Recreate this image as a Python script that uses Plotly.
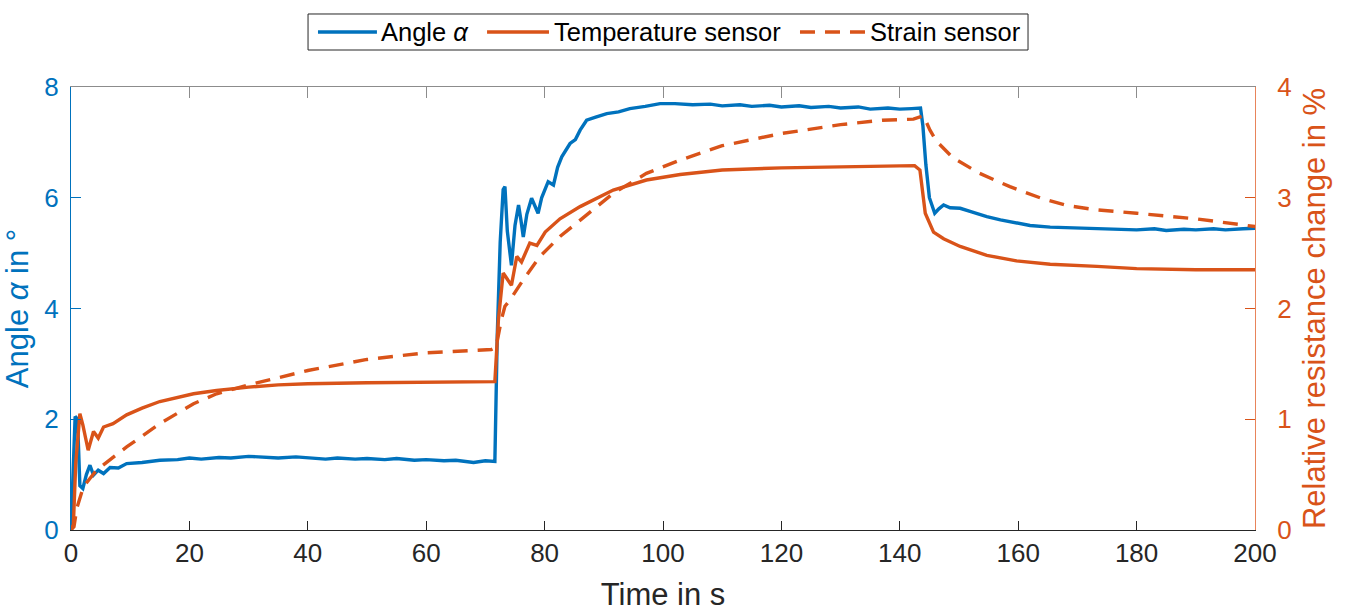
import plotly.graph_objects as go

t_angle = [0, 0.3, 0.7, 1.1, 1.5, 2.0, 2.6, 3.2, 3.8, 4.6, 5.5, 6.6, 8, 9.4, 12, 15, 18, 20, 22, 25, 27, 30, 33, 35, 38, 40, 43, 45, 48, 50,
           53, 55, 58, 60, 63, 65, 68, 70, 71.6,
           72.0, 72.5, 73.0, 73.3, 73.7, 74.4, 75.0, 75.6, 76.0, 76.4, 77.0, 77.8, 78.9, 79.5, 80.6, 81.5, 82.2, 82.9, 84.3, 85.2, 86,
           87.1, 88.5, 90.5, 92.5, 94.4, 97, 99.5, 102, 105, 108, 110, 113, 115, 118, 120, 123, 125, 128, 130, 133, 135, 138, 140, 142,
           143.5, 143.9, 144.4, 145.0, 145.9,
           146.6, 147.4, 148.5, 150.2, 152, 154.7, 157, 159.7, 162, 165.4, 170, 173.3, 176, 180, 183, 185, 188, 190, 193, 195, 198, 200]
angle = [0, 1.0, 2.05, 2.0, 0.8, 0.75, 1.0, 1.17, 0.99, 1.08, 1.02, 1.13, 1.12, 1.2, 1.22, 1.26, 1.27, 1.3, 1.28, 1.31, 1.3, 1.33, 1.31, 1.3, 1.32, 1.3, 1.28, 1.3, 1.28, 1.29,
         1.27, 1.29, 1.26, 1.27, 1.25, 1.26, 1.22, 1.25, 1.24,
         3.5, 5.2, 6.15, 6.2, 5.4, 4.78, 5.5, 5.87, 5.6, 5.29, 5.7, 5.99, 5.72, 6.0, 6.29, 6.23, 6.55, 6.74, 6.98, 7.05, 7.22,
         7.4, 7.45, 7.52, 7.55, 7.61, 7.65, 7.7, 7.7, 7.68, 7.69, 7.66, 7.68, 7.65, 7.67, 7.64, 7.66, 7.63, 7.65, 7.62, 7.64, 7.6, 7.62, 7.6, 7.61,
         7.62, 7.3, 6.6, 6.0, 5.72,
         5.8, 5.87, 5.82, 5.81, 5.75, 5.66, 5.6, 5.54, 5.5, 5.47, 5.45, 5.45, 5.43, 5.42, 5.44, 5.41, 5.43, 5.42, 5.44, 5.42, 5.44, 5.45]

t_temp = [0, 0.4, 0.8, 1.5, 2.0, 2.9, 3.8, 4.6, 5.5, 7.1, 9.4, 12, 15, 20.7, 24.6, 30, 35, 40, 50, 60, 71, 71.6, 72.2, 73, 74.4, 75.3,
          76.1, 77.5, 78.7, 80.1, 82.6, 86, 91.6, 97.2, 102.9, 110, 120, 130, 140, 142.5, 143.4, 144.3, 145.7, 147.4, 150.2, 154.7,
          159.7, 165.4, 173.3, 180, 190, 200]
temp = [0, 0.05, 0.6, 1.05, 0.95, 0.72, 0.89, 0.83, 0.93, 0.96, 1.04, 1.1, 1.16, 1.23, 1.26, 1.29, 1.31, 1.32, 1.33, 1.335, 1.335, 1.34, 1.9, 2.32, 2.21, 2.47,
        2.42, 2.59, 2.57, 2.69, 2.81, 2.92, 3.07, 3.16, 3.21, 3.25, 3.27, 3.28, 3.29, 3.29, 3.25, 2.86, 2.69, 2.63, 2.56, 2.48,
        2.43, 2.40, 2.38, 2.36, 2.35, 2.35]

t_strain = [0, 0.5, 1.0, 2.1, 4.3, 9.4, 15, 20.7, 24.6, 30, 40, 50, 60, 71, 71.8, 72.7, 73.3, 74.2, 76.4, 79.2, 82.6, 86, 91.6, 97.2,
            102.9, 110, 120, 130, 137, 142.3, 144, 145.1, 146.2, 149, 153.5, 158.6, 164.2, 168.2, 173.3, 180, 190, 200]
strain = [0, 0.03, 0.2, 0.39, 0.54, 0.75, 0.96, 1.14, 1.23, 1.31, 1.44, 1.54, 1.6, 1.63, 1.65, 1.9, 2.02, 2.08, 2.26, 2.47, 2.65, 2.8, 3.04, 3.22,
          3.34, 3.47, 3.58, 3.66, 3.7, 3.71, 3.74, 3.61, 3.51, 3.36, 3.22, 3.1, 2.99, 2.93, 2.89, 2.86, 2.81, 2.74]

x_ticks = [0, 20, 40, 60, 80, 100, 120, 140, 160, 180, 200]
left_ticks = [0, 2, 4, 6, 8]
right_ticks = [0, 1, 2, 3, 4]
series_names = ["Angle <i>α</i>", "Temperature sensor", "Strain sensor"]

BLUE = "#0072BD"
ORANGE = "#D95319"
DARK = "#262626"
GRAY = "#8C8C8C"
FONT = "Liberation Sans"
DASH = "15px,10px"

fig = go.Figure()
fig.add_trace(go.Scatter(x=t_angle, y=angle, mode="lines", name=series_names[0],
                         line=dict(color=BLUE, width=3.4)))
fig.add_trace(go.Scatter(x=t_temp, y=temp, mode="lines", name=series_names[1],
                         line=dict(color=ORANGE, width=3.4), yaxis="y2"))
fig.add_trace(go.Scatter(x=t_strain, y=strain, mode="lines", name=series_names[2],
                         line=dict(color=ORANGE, width=3.4, dash=DASH), yaxis="y2"))
# invisible trace to activate the top (box) axis
fig.add_trace(go.Scatter(x=[0, 200], y=[0, 0], mode="lines", xaxis="x2", yaxis="y",
                         line=dict(width=0), hoverinfo="skip", showlegend=False))

# Legend drawn in paper coordinates (MATLAB-style box with long line samples)
leg_y = 1.1242
leg_items = [
    (0.2086, 0.2584, 0.2605, BLUE, "solid"),
    (0.3514, 0.4037, 0.4066, ORANGE, "solid"),
    (0.6157, 0.6706, 0.6735, ORANGE, DASH),
]
shapes = [dict(type="rect", xref="paper", yref="paper", x0=0.2002, x1=0.8083, y0=1.0835, y1=1.1648,
               line=dict(color=DARK, width=1), fillcolor="white", layer="above")]
annotations = []
for (x0, x1, xt, col, dash), name in zip(leg_items, series_names):
    shapes.append(dict(type="line", xref="paper", yref="paper", x0=x0, x1=x1, y0=leg_y, y1=leg_y,
                       line=dict(color=col, width=3.4, dash=dash), layer="above"))
    annotations.append(dict(xref="paper", yref="paper", x=xt, y=leg_y, xanchor="left", yanchor="middle",
                            text=name, showarrow=False, font=dict(family=FONT, size=25.5, color="black")))

fig.update_layout(
    width=1349, height=612,
    margin=dict(l=71, r=94, t=87, b=82, autoexpand=False),
    paper_bgcolor="white", plot_bgcolor="white",
    font=dict(family=FONT, size=26, color=DARK),
    showlegend=False,
    shapes=shapes, annotations=annotations,
    xaxis=dict(range=[0, 200], tickvals=x_ticks, ticks="inside", ticklen=9, tickcolor=DARK,
               showline=True, linecolor=DARK, linewidth=1, showgrid=False, zeroline=False,
               automargin=False,
               title=dict(text="Time in s", font=dict(size=31, color=DARK), standoff=20),
               tickfont=dict(size=26, color=DARK)),
    xaxis2=dict(range=[0, 200], tickvals=x_ticks, ticks="inside", ticklen=11, tickcolor=GRAY,
                overlaying="x", side="top", anchor="y", showticklabels=False,
                showline=True, linecolor=GRAY, linewidth=1, showgrid=False, zeroline=False, automargin=False),
    yaxis=dict(range=[0, 8], tickvals=left_ticks, ticks="inside", ticklen=10, tickcolor=BLUE,
               showline=True, linecolor=BLUE, linewidth=1, showgrid=False, zeroline=False,
               automargin=False, ticklabelstandoff=6,
               title=dict(text="Angle <i>α</i> in °", font=dict(size=31, color=BLUE), standoff=12),
               tickfont=dict(size=26, color=BLUE)),
    yaxis2=dict(range=[0, 4], tickvals=right_ticks, ticks="inside", ticklen=10, tickcolor=ORANGE,
                overlaying="y", side="right",
                showline=True, linecolor="#E8845A", linewidth=1, showgrid=False, zeroline=False,
                automargin=False, ticklabelstandoff=16,
                title=dict(text="Relative resistance change in %", font=dict(size=31, color=ORANGE), standoff=12),
                tickfont=dict(size=26, color=ORANGE)),
)

fig.write_html("out.html")
